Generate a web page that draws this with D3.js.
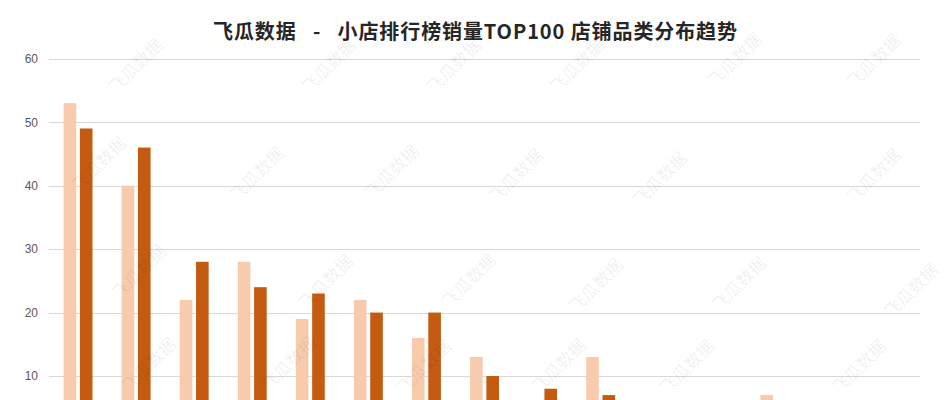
<!DOCTYPE html>
<html><head><meta charset="utf-8">
<script src="https://cdn.jsdelivr.net/npm/d3@7"></script>
<style>
html,body{margin:0;padding:0;background:#fff;overflow:hidden;}
svg{display:block;}
</style></head>
<body>
<svg id="chart" width="949" height="400"></svg>
<script>
// ---- data ----
const categories = ["女装","食品饮料","美妆护肤","个护家清","男装","鞋靴箱包","母婴","家居用品","珠宝饰品","运动户外","3C数码","宠物用品","生鲜","图书","其他"];
const seriesNames = ["上期","本期"];
const seriesA = [53,40,22,28,19,22,16,13,5,13,4,3,7,2,1];
const seriesB = [49,46,28,24,23,20,20,10,8,7,3,5,4,3,2];
const yTicks = [10,20,30,40,50,60];
const titleText = "飞瓜数据   -   小店排行榜销量TOP100 店铺品类分布趋势";
const watermarkText = "飞瓜数据";

const colors = ["#F8CBAD","#C55A11"];
const svg = d3.select("#chart");

// watermark layout (decoration)
const wmPos = [[137,67],[330,67],[455,67],[578,67],[736,61],[875,62],
               [100,165],[258,175],[393,173],[517,177],[661,180],[875,177],
               [140,273],[327,283],[470,282],[597,287],[740,285],[912,292],
               [150,366],[290,365],[425,368],[560,367],[688,368],[860,368]];

const y = d3.scaleLinear().domain([0,60]).range([439.5,58.7]);
const x0 = d3.scaleBand().domain(categories).range([49,920]).padding(0);
const x1 = d3.scaleBand().domain(seriesNames).range([14.6,43.5]).paddingInner(0.227).paddingOuter(0);

// gridlines
svg.append("g").selectAll("line").data(yTicks).join("line")
  .attr("x1",49).attr("x2",920)
  .attr("y1",d=>Math.round(y(d))+0.5).attr("y2",d=>Math.round(y(d))+0.5)
  .attr("stroke","#D9D9D9").attr("stroke-width",1);

// y axis labels
const yAxis = d3.axisLeft(y).tickValues(yTicks).tickSize(0).tickPadding(0);
const ya = svg.append("g").attr("transform","translate(38,0)").call(yAxis);
ya.select(".domain").remove();
ya.selectAll("text").attr("fill","#595959").attr("font-size",12)
  .attr("font-family","Liberation Sans, Arial, sans-serif");

// bars
const table = categories.map((c,i)=>({cat:c, vals:[seriesA[i],seriesB[i]]}));
const groups = svg.append("g").selectAll("g").data(table).join("g")
  .attr("transform",d=>`translate(${x0(d.cat)},0)`);
groups.selectAll("rect").data(d=>d.vals.map((v,j)=>({s:seriesNames[j],v,j}))).join("rect")
  .attr("x",d=>x1(d.s)).attr("width",x1.bandwidth())
  .attr("y",d=>y(d.v)).attr("height",d=>y(0)-y(d.v))
  .attr("fill",d=>colors[d.j]);

// title
svg.append("text").attr("x",475).attr("y",39).attr("text-anchor","middle")
  .attr("font-family","Noto Sans CJK SC, sans-serif").attr("font-weight","bold")
  .attr("font-size",20).attr("fill","#262626").style("white-space","pre")
  .attr("textLength",524).attr("lengthAdjust","spacing")
  .text(titleText);

// watermarks
svg.append("g").attr("pointer-events","none").selectAll("text").data(wmPos).join("text")
  .attr("transform",d=>`translate(${d[0]},${d[1]}) rotate(-45)`)
  .attr("text-anchor","middle").attr("dominant-baseline","middle")
  .attr("font-family","Noto Sans CJK SC, sans-serif").attr("font-size",17)
  .attr("fill","#000").attr("fill-opacity",0.07)
  .text(watermarkText);
</script>
</body></html>
